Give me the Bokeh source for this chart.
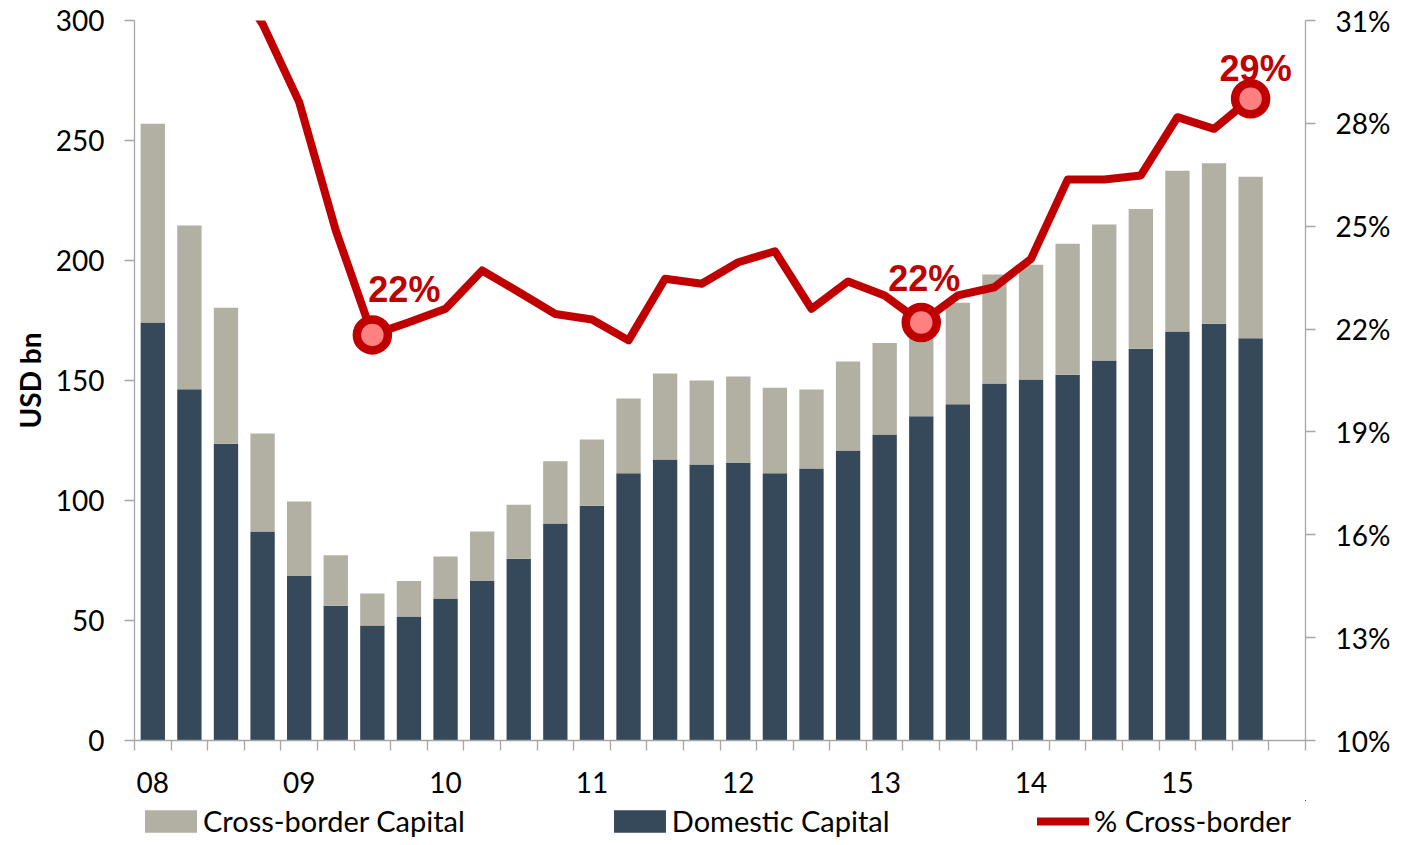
from bokeh.plotting import figure
from bokeh.layouts import column
from bokeh.models import (Range1d, LinearAxis, FixedTicker, ColumnDataSource,
                          Legend, LegendItem, NumeralTickFormatter)
from bokeh.core.properties import value
from bokeh.embed import file_html
from bokeh.resources import INLINE

# ---------------- data ----------------
quarters = ["08", "", "", "", "09", "", "", "", "10", "", "", "", "11", "", "", "",
            "12", "", "", "", "13", "", "", "", "14", "", "", "", "15", "", "", ""]

domestic = [174.2, 146.4, 123.6, 87.1, 68.5, 56.1, 47.9, 51.7, 59.2, 66.5, 75.7,
            90.4, 97.8, 111.4, 117.1, 115.0, 115.6, 111.4, 113.3, 120.8, 127.5,
            135.1, 140.1, 148.8, 150.4, 152.4, 158.3, 163.2, 170.4, 173.6, 167.6]

cross_border = [82.8, 68.2, 56.7, 40.8, 31.1, 21.1, 13.4, 14.8, 17.5, 20.6, 22.5,
                26.0, 27.6, 31.1, 35.8, 35.0, 36.1, 35.6, 33.0, 37.1, 38.1,
                38.9, 42.3, 45.4, 47.8, 54.6, 56.7, 58.3, 67.0, 66.9, 67.3]

pct_cross = [0.335, 0.330, 0.325, 0.309, 0.2862, 0.2488, 0.2183, 0.2220, 0.2259,
             0.2371, 0.2308, 0.2244, 0.2228, 0.2167, 0.2347, 0.2332, 0.2395,
             0.2427, 0.2259, 0.2339, 0.2298, 0.2219, 0.2298, 0.2322, 0.2405,
             0.2636, 0.2636, 0.2648, 0.2818, 0.2784, 0.2872]

highlight_idx = [6, 21, 30]

left_ticks = [0, 50, 100, 150, 200, 250, 300]
pct_ticks = [0.10, 0.13, 0.16, 0.19, 0.22, 0.25, 0.28, 0.31]

series_names = ["Cross-border Capital", "Domestic Capital", "% Cross-border"]

# ---------------- styles ----------------
DARK = "#36495A"
GRAY = "#B2B0A3"
RED = "#C00000"
PINK = "#FF8080"
AXIS = "#A6A6A6"
FONT = "Lato"

# label offsets (screen px) for the highlighted labels
label_dx = [32, 3, 5]
label_dy = [-45, -44, -30]

src = ColumnDataSource(dict(x=list(range(len(domestic))), domestic=domestic,
                            cross=cross_border, pct=pct_cross))

hsrc = ColumnDataSource(dict(
    x=highlight_idx,
    y=[pct_cross[i] for i in highlight_idx],
    label=[f"{round(pct_cross[i] * 100)}%" for i in highlight_idx],
    xo=label_dx, yo=label_dy))

p = figure(width=1405, height=800,
           x_range=Range1d(-0.5, len(quarters) - 0.5), y_range=Range1d(0, 300),
           output_backend="svg", toolbar_location=None,
           min_border_left=134, min_border_right=100,
           min_border_top=20, min_border_bottom=60)
p.outline_line_color = None
p.xgrid.visible = False
p.ygrid.visible = False
p.background_fill_color = "white"
p.border_fill_color = "white"

bars = p.vbar_stack(["domestic", "cross"], x="x", width=0.665, color=[DARK, GRAY],
                    line_color=None, source=src)

p.extra_y_ranges = {"pct": Range1d(0.10, 0.31)}
line_r = p.line("x", "pct", source=src, y_range_name="pct", line_color=RED,
                line_width=8, line_join="round", line_cap="round")

p.text(x="x", y="y", text="label", x_offset="xo", y_offset="yo", source=hsrc,
       y_range_name="pct", text_font=value("Liberation Sans"),
       text_font_style="bold", text_font_size="36px", text_color=RED,
       text_align="center", text_baseline="alphabetic")

p.scatter("x", "y", source=hsrc, y_range_name="pct", size=31,
          fill_color=PINK, line_color=RED, line_width=8.5)

# x axis
xa = p.xaxis[0]
year_ticks = [i for i, q in enumerate(quarters) if q]
boundaries = [i - 0.5 for i in range(len(quarters) + 1)]
xa.ticker = FixedTicker(ticks=year_ticks, minor_ticks=boundaries)
xa.major_label_overrides = {i: quarters[i] for i in year_ticks}
xa.major_tick_out = 0
xa.major_tick_in = 0
xa.minor_tick_out = 10
xa.minor_tick_in = 0
xa.major_label_standoff = 21

# left axis
ya = p.yaxis[0]
ya.ticker = FixedTicker(ticks=left_ticks)
ya.axis_label = "USD bn"
ya.axis_label_text_font = FONT
ya.axis_label_text_font_style = "bold"
ya.axis_label_text_font_size = "28px"
ya.axis_label_text_color = "black"
ya.axis_label_standoff = 6
ya.major_label_standoff = 20

# right axis
ra = LinearAxis(y_range_name="pct", ticker=FixedTicker(ticks=pct_ticks),
                formatter=NumeralTickFormatter(format="0%"))
ra.major_label_standoff = 20
p.add_layout(ra, "right")

for ax in (xa, ya, ra):
    ax.axis_line_color = AXIS
    ax.axis_line_width = 1.3
    ax.major_tick_line_color = AXIS
    ax.major_tick_line_width = 1.3
    ax.minor_tick_line_color = AXIS
    ax.minor_tick_line_width = 1.3
    ax.major_label_text_font = FONT
    ax.major_label_text_font_size = "28px"
    ax.major_label_text_color = "black"
for ax in (ya, ra):
    ax.major_tick_out = 10
    ax.major_tick_in = 0
    ax.minor_tick_out = 0
    ax.minor_tick_in = 0

# ---------------- legend strip ----------------
# the key renderers reuse the real data, but this strip's ranges keep them out of view
lg = figure(width=1405, height=45, x_range=Range1d(-200, -199),
            y_range=Range1d(-200, -199),
            output_backend="svg", toolbar_location=None,
            x_axis_type=None, y_axis_type=None,
            min_border_left=134, min_border_right=100,
            min_border_top=0, min_border_bottom=0)
lg.outline_line_color = None
lg.xgrid.visible = False
lg.ygrid.visible = False

key_cross = lg.vbar(x="x", top="cross", source=src, width=0.5,
                    fill_color=GRAY, line_color=None)
key_dom = lg.vbar(x="x", top="domestic", source=src, width=0.5,
                  fill_color=DARK, line_color=None)
key_line = lg.line(x="x", y="pct", source=src, line_color=RED, line_width=8,
                   line_cap="round")

leg_style = dict(orientation="horizontal", padding=0, margin=0,
                 border_line_color=None, background_fill_alpha=0,
                 label_text_font=FONT, label_text_font_size="29px",
                 label_text_color="black")

legend_bars = Legend(items=[
    LegendItem(label=series_names[0], renderers=[key_cross]),
    LegendItem(label=series_names[1], renderers=[key_dom]),
], location=(4, 7), glyph_width=65, glyph_height=28, label_standoff=0,
    spacing=142, **leg_style)
legend_line = Legend(items=[
    LegendItem(label=series_names[2], renderers=[key_line]),
], location=(903, 7), glyph_width=52, glyph_height=22, label_standoff=5,
    **leg_style)
lg.add_layout(legend_bars)
lg.add_layout(legend_line)

layout = column(p, lg, spacing=0)
open("out.html", "w").write(file_html(layout, INLINE))
